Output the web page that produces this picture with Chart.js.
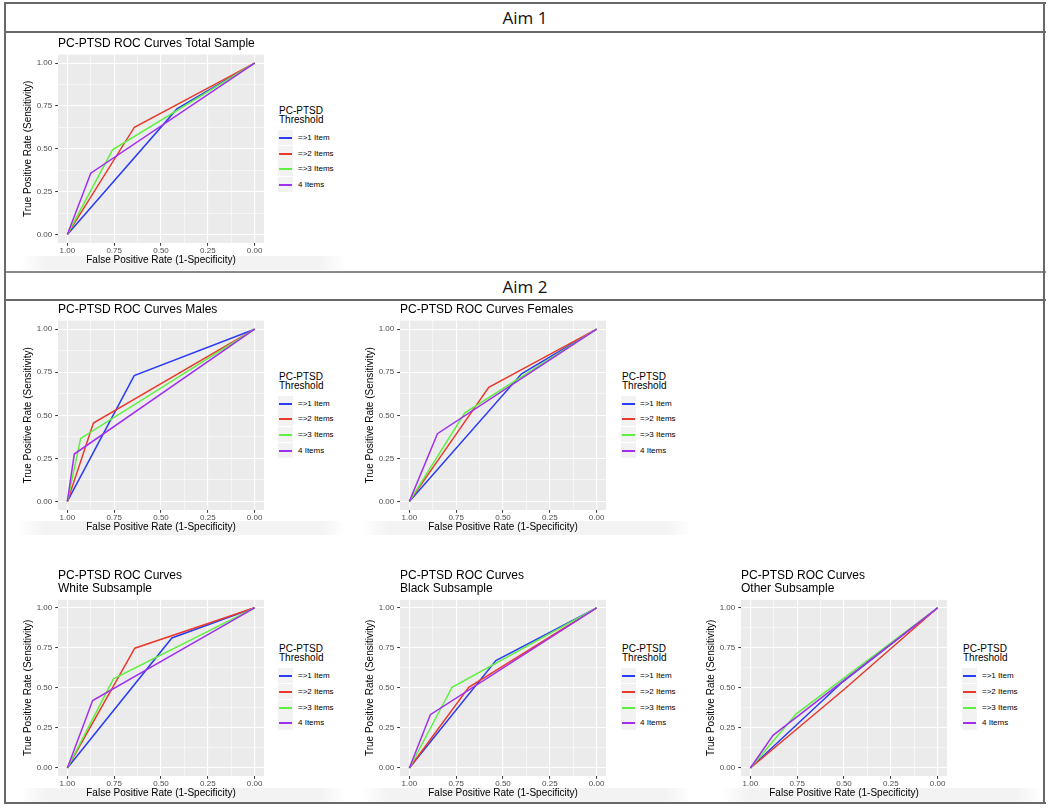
<!DOCTYPE html>
<html><head><meta charset="utf-8">
<script src="https://cdn.jsdelivr.net/npm/chart.js@4.4.0/dist/chart.umd.min.js"></script>
<style>
html,body{margin:0;padding:0;background:#fff;}
body{width:1050px;height:808px;position:relative;overflow:hidden;font-family:"Liberation Sans",Arial,sans-serif;}
.hl{position:absolute;height:0;border-top:2px solid #686868;}
.vl{position:absolute;width:0;border-left:2px solid #686868;}
.hdr{position:absolute;font-family:"Open Sans","Liberation Sans",sans-serif;font-size:17px;color:#111;transform:translate(-50%,-50%);white-space:nowrap;}
.band{position:absolute;background:linear-gradient(to right,rgba(240,240,240,0),#f3f3f3 8%,#f3f3f3 92%,rgba(240,240,240,0));}
.lgt{position:absolute;font-size:10px;line-height:9.4px;color:#000;white-space:nowrap;}
.key{position:absolute;width:15px;height:15px;background:#F2F2F2;}
.keyline{position:absolute;left:1px;width:13px;top:7px;height:2px;}
.lbl{position:absolute;font-size:8px;line-height:10px;color:#000;white-space:nowrap;}
canvas{position:absolute;}
</style></head><body>

<div class="band" style="left:20px;top:256px;width:326px;height:14px"></div>
<div class="band" style="left:18px;top:521px;width:328px;height:14px"></div>
<div class="band" style="left:362px;top:521px;width:330px;height:14px"></div>
<div class="band" style="left:20px;top:788px;width:326px;height:14px"></div>
<div class="band" style="left:362px;top:788px;width:330px;height:14px"></div>
<div class="band" style="left:722px;top:788px;width:320px;height:14px"></div>

<div class="hl" style="left:4px;top:2px;width:1042px"></div>
<div class="hl" style="left:4px;top:31px;width:1042px"></div>
<div class="hl" style="left:4px;top:271px;width:1042px;border-top-color:#8a8a8a"></div>
<div class="hl" style="left:4px;top:299px;width:1042px"></div>
<div class="hl" style="left:4px;top:802px;width:1042px"></div>
<div class="vl" style="left:4px;top:2px;height:802px"></div>
<div class="vl" style="left:1043px;top:2px;height:802px"></div>

<div class="hdr" style="left:525px;top:17px">Aim 1</div>
<div class="hdr" style="left:525px;top:286px">Aim 2</div>

<script>
// ---------------- DATA ----------------
const thresholds = ['=>1 Item', '=>2 Items', '=>3 Items', '4 Items'];
// every ROC curve starts at (specificity 1, sensitivity 0) and ends at (0, 1)
const rocStart = { spec: 1, sens: 0 };
const rocEnd = { spec: 0, sens: 1 };

// cut-point (specificity, sensitivity) for each threshold, in threshold order
const totalSpecificity  = [0.415, 0.642, 0.759, 0.875];
const totalSensitivity  = [0.733, 0.626, 0.494, 0.358];

const malesSpecificity  = [0.643, 0.861, 0.929, 0.963];
const malesSensitivity  = [0.731, 0.455, 0.366, 0.275];

const femalesSpecificity = [0.401, 0.576, 0.704, 0.850];
const femalesSensitivity = [0.741, 0.663, 0.514, 0.393];

const whiteSpecificity  = [0.442, 0.640, 0.754, 0.865];
const whiteSensitivity  = [0.812, 0.748, 0.556, 0.421];

const blackSpecificity  = [0.538, 0.683, 0.772, 0.888];
const blackSensitivity  = [0.671, 0.504, 0.504, 0.333];

const otherSpecificity  = [0.510, 0.500, 0.755, 0.879];
const otherSensitivity  = [0.535, 0.490, 0.338, 0.204];

const axisTickValues = [0, 0.25, 0.5, 0.75, 1];
const minorTickValues = [0.125, 0.375, 0.625, 0.875];

// ---------------- STYLE / LAYOUT ----------------
const lineColors = ['#2a3cf6', '#ea3a2e', '#5ef03f', '#a12ff0'];
const FONT = '"Liberation Sans", Arial, sans-serif';
const YW = 36, XH = 24, TITLE_LH = 13.2, TITLE_PAD = 4.4;

const panels = [
  { title: ['PC-PTSD ROC Curves Total Sample'], spec: totalSpecificity, sens: totalSensitivity, L: 58, T: 54.7, R: 263.7, B: 243.3 },
  { title: ['PC-PTSD ROC Curves Males'], spec: malesSpecificity, sens: malesSensitivity, L: 58, T: 320.1, R: 263.7, B: 509.3 },
  { title: ['PC-PTSD ROC Curves Females'], spec: femalesSpecificity, sens: femalesSensitivity, L: 400.3, T: 320.1, R: 606, B: 509.3 },
  { title: ['PC-PTSD ROC Curves', 'White Subsample'], spec: whiteSpecificity, sens: whiteSensitivity, L: 58, T: 599.3, R: 263.7, B: 775.3 },
  { title: ['PC-PTSD ROC Curves', 'Black Subsample'], spec: blackSpecificity, sens: blackSensitivity, L: 400.3, T: 599.3, R: 606, B: 775.3 },
  { title: ['PC-PTSD ROC Curves', 'Other Subsample'], spec: otherSpecificity, sens: otherSensitivity, L: 741.3, T: 599.3, R: 947.7, B: 775.3 }
];

const panelBg = {
  id: 'panelBg',
  beforeDraw(chart) {
    const a = chart.chartArea, c = chart.ctx;
    c.save(); c.fillStyle = '#EBEBEB';
    c.fillRect(a.left, a.top, a.right - a.left, a.bottom - a.top);
    c.restore();
  }
};

const allTicks = axisTickValues.concat(minorTickValues).sort((a, b) => a - b);
const isMajor = v => axisTickValues.some(t => Math.abs(t - v) < 1e-9);

function axis(titleText, isX) {
  return {
    type: 'linear', min: -0.05, max: 1.05, reverse: isX,
    afterBuildTicks: s => { s.ticks = allTicks.map(v => ({ value: v })); },
    afterFit: s => { if (isX) s.height = XH; else s.width = YW; },
    ticks: {
      autoSkip: false, maxRotation: 0, padding: isX ? 0.5 : 3,
      color: '#4D4D4D', font: { family: FONT, size: 8 },
      callback: v => isMajor(v) ? v.toFixed(2) : ''
    },
    grid: {
      color: '#FFFFFF', drawTicks: true, tickLength: 2.8, tickWidth: 1,
      lineWidth: ctx => (ctx.tick && isMajor(ctx.tick.value)) ? 1.1 : 0.55,
      tickColor: ctx => (ctx.tick && isMajor(ctx.tick.value)) ? '#333333' : 'rgba(0,0,0,0)'
    },
    border: { display: false },
    title: {
      display: true, text: titleText, color: '#000',
      font: { family: FONT, size: 10, lineHeight: 1.2 },
      padding: isX ? { top: 0, bottom: 1 } : { top: 0, bottom: 0 }
    }
  };
}

panels.forEach((p) => {
  const titleH = p.title.length * TITLE_LH + TITLE_PAD;
  const cv = document.createElement('canvas');
  const w = (p.R - p.L) + YW + 1;
  const h = titleH + (p.B - p.T) + XH;
  cv.width = Math.round(w); cv.height = Math.round(h);
  cv.style.width = Math.round(w) + 'px'; cv.style.height = Math.round(h) + 'px';
  cv.style.left = (p.L - YW) + 'px';
  cv.style.top = (p.T - titleH) + 'px';
  document.body.appendChild(cv);

  const datasets = thresholds.map((name, i) => ({
    label: name,
    data: [
      { x: rocStart.spec, y: rocStart.sens },
      { x: p.spec[i], y: p.sens[i] },
      { x: rocEnd.spec, y: rocEnd.sens }
    ],
    showLine: true, borderColor: lineColors[i], backgroundColor: lineColors[i],
    borderWidth: 1.5, pointRadius: 0, tension: 0, fill: false, order: thresholds.length - i
  }));

  new Chart(cv, {
    type: 'scatter',
    data: { datasets },
    options: {
      responsive: false, animation: false, devicePixelRatio: 1,
      layout: { padding: { left: 0, right: 1, top: 0, bottom: 0 } },
      plugins: {
        legend: { display: false }, tooltip: { enabled: false },
        title: {
          display: true, text: p.title, align: 'start', fullSize: false,
          color: '#000', font: { family: FONT, size: 12, weight: 'normal', lineHeight: 1.1 },
          padding: { top: 0, bottom: TITLE_PAD }
        }
      },
      scales: { x: axis('False Positive Rate (1-Specificity)', true), y: axis('True Positive Rate (Sensitivity)', false) }
    },
    plugins: [panelBg]
  });

  // ggplot-style legend (HTML text)
  const C = (p.T + p.B) / 2, lx = Math.round(p.R + 15.6);
  const t = document.createElement('div');
  t.className = 'lgt';
  t.style.left = lx + 'px'; t.style.top = Math.round(C - 43) + 'px';
  t.innerHTML = 'PC-PTSD<br>Threshold';
  document.body.appendChild(t);
  thresholds.forEach((name, i) => {
    const cy = Math.round(C - 11 + i * 15.65);
    const k = document.createElement('div');
    k.className = 'key';
    k.style.left = (lx - 1) + 'px'; k.style.top = (cy - 8) + 'px';
    const ln = document.createElement('div');
    ln.className = 'keyline'; ln.style.background = lineColors[i];
    k.appendChild(ln);
    document.body.appendChild(k);
    const lb = document.createElement('div');
    lb.className = 'lbl';
    lb.style.left = Math.round(p.R + 34.4) + 'px'; lb.style.top = (cy - 5) + 'px';
    lb.textContent = name;
    document.body.appendChild(lb);
  });
});
</script>
</body></html>
